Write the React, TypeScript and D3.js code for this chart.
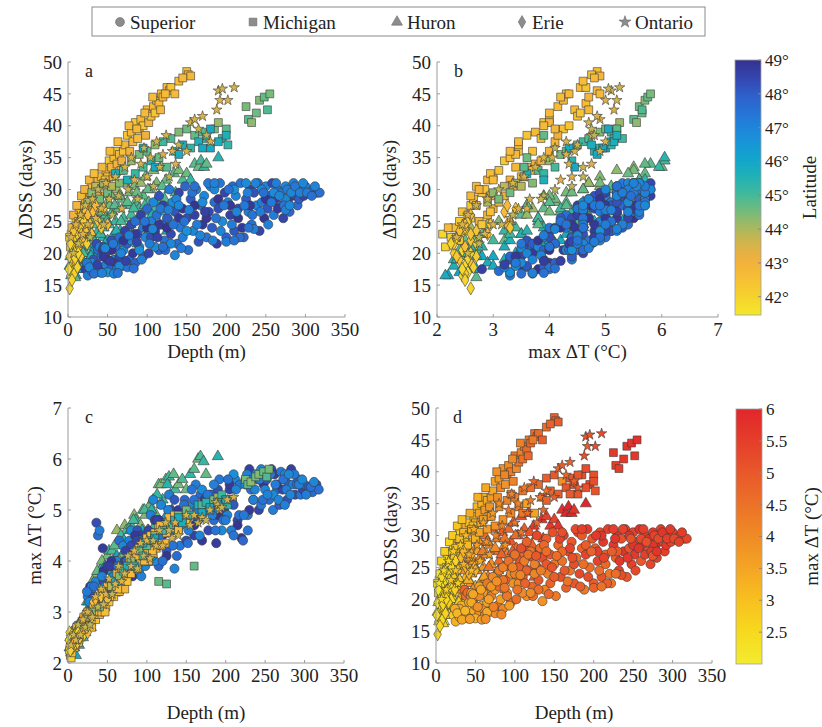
import React from 'react';
import * as d3 from 'd3';

// [depth (m), ΔDSS (days), max ΔT (°C), latitude (°)]
type P = [number, number, number, number];

const superior: P[] = [
  [22,17.5,2.8,48.6],[25,16.5,3.3,47.2],[28,18,3.5,48.8],[30,17.2,3.1,47.6],[32,19,3.3,48.2],[35,17.8,3.6,47.0],
  [36,21.5,4.75,48.3],[38,20.5,4.5,47.6],[40,17,3.3,47.3],[40,21,4.6,47.2],[42,19.5,3.3,47.8],[44,20.5,4.25,48.7],
  [45,17.5,3.8,48.9],[45,21,3.6,48.3],[48,18.2,3.4,47.1],[50,19,3.9,48.6],[52,20.5,3.5,47.4],[55,17.8,3.9,47.9],
  [55,22,3.6,48.2],[58,19,3.4,46.9],[60,18.5,4.0,48.7],[60,21,3.7,47.5],
  [62,17.5,4.0,47.0],[65,19.5,3.5,48.5],[65,22.5,4.4,47.6],[68,18,3.6,48.1],[70,20.5,4.3,46.9],[72,23.5,4.0,48.6],
  [75,17.8,4.0,47.4],[75,21.5,3.7,48.0],[78,19,4.4,47.2],[80,24.5,4.3,48.4],[80,22,4.6,46.8],[82,20,3.7,48.8],
  [85,25,4.2,47.5],[85,18.5,4.1,47.9],[88,23,4.6,48.2],[90,21,3.8,47.0],[92,26,4.5,48.6],[95,24,4.0,47.3],
  [95,19.5,4.4,48.0],[98,22.5,3.9,46.9],
  [100,27,4.5,47.7],[102,20,4.6,48.5],[105,25,4.9,47.1],[105,22.5,4.0,48.3],[108,28,5.2,46.9],[110,23.5,4.8,48.7],
  [112,26,4.3,47.5],[115,20.5,3.9,47.9],[115,29,4.8,48.2],[118,24.5,5.1,47.0],[120,27.5,4.5,48.6],[122,22,4.7,47.4],
  [125,25.5,4.2,48.0],[128,30,5.3,47.2],[135,19.7,3.85,47.0],[130,23,5.0,48.4],[132,28,4.6,46.8],[135,26.5,5.2,48.1],
  [138,21.5,4.1,47.6],[140,29.5,4.9,48.5],[142,24,4.3,47.3],[145,27,5.0,48.9],[145,22.5,4.8,47.1],[148,30.5,5.2,47.8],
  [150,25.5,4.4,48.3],
  [152,20.5,4.35,47.5],[155,28.5,4.7,48.0],[158,23.5,5.1,46.9],[160,26,4.5,48.6],[162,30,5.5,47.2],[165,21.8,4.8,48.2],
  [168,27.5,5.3,47.7],[170,24.5,4.4,48.8],[172,29,5.0,46.9],[175,22.5,5.0,47.4],[178,26.5,4.6,48.4],[180,30.5,5.3,47.0],
  [182,24,5.3,48.0],[185,28,4.8,47.6],[188,21.5,4.35,48.7],[190,27,5.4,48.3],[192,31,5.6,47.3],[195,25,4.6,46.8],
  [198,29.5,5.0,48.5],[200,22.5,4.9,47.9],
  [202,28,4.9,47.1],[205,26,5.4,48.6],[208,30.5,5.2,47.6],[210,23.5,5.1,48.1],[212,29,5.6,46.9],[215,27,4.8,48.4],
  [218,31,5.5,47.4],[220,24,4.45,48.8],[222,22.5,4.4,47.8],[225,28.5,5.6,48.0],[228,26.5,4.9,47.2],[230,30,5.8,48.6],
  [232,24.5,5.4,47.5],[235,29.5,5.2,48.2],[238,27.5,5.7,46.9],[240,31,5.6,47.7],[242,23.5,5.0,48.5],[245,28,5.1,47.3],
  [248,25.5,5.5,48.9],[250,30.5,5.4,47.0],
  [252,27,5.6,48.1],[255,29,5.2,47.6],[258,31,5.8,48.4],[260,26,5.0,47.2],[262,28.5,5.7,48.7],[265,30,5.4,47.5],
  [268,27.5,5.1,48.0],[270,29.5,5.75,47.3],[272,25.5,5.4,48.5],[275,30.5,5.6,46.9],[278,28,5.2,48.2],[280,26.5,5.5,47.8],
  [283,29,5.8,48.6],[285,31,5.5,47.1],[288,29,5.3,48.3],[290,27.5,5.5,47.6],[292,28.5,5.6,48.0],[295,30,5.3,47.4],
  [298,29,5.4,48.5],[300,30.5,5.5,47.2],[305,29.5,5.45,48.1],[310,30,5.35,47.7],[315,29.5,5.5,48.3],[318,29.5,5.4,47.5],
  [45,19.5,3.4,48.8],[55,20.5,4.0,48.9],[70,22,3.8,48.9],[85,23,4.5,48.8],[100,24,4.2,48.9],[115,24.5,4.8,48.8],
  [125,24,4.1,48.9],[140,25.5,5.0,48.8],[160,27.5,4.7,48.9],[175,25.5,5.2,48.8],[190,28.5,4.9,48.9],[205,27.5,5.5,48.8],
  [215,25.5,4.7,48.9],[230,27.5,5.0,48.8],[250,28.5,5.7,48.9],[265,27,5.5,48.8],
  [30,18.5,3.5,46.8],[50,17,3.3,46.7],[58,16.8,3.7,47.0],[65,18,3.4,46.8],[90,20.5,4.4,46.7],[110,21,4.0,46.8],
  [130,21.5,4.6,46.9],[150,23.5,4.9,46.7],[170,28,5.4,46.8],[185,30,5.0,46.9],[210,30,5.7,46.7],[225,31,5.5,46.8],
  [245,30,5.8,46.9],[260,29.5,5.3,46.8],[275,28.5,5.7,47.0],
  [24,18.5,3.4,47.3],[27,17.8,3.2,46.9],[33,16.8,3.5,47.5],[37,18.2,3.2,48.6],[43,16.9,3.7,47.1],[47,20.8,3.5,46.9],
  [53,18.8,3.9,48.7],[57,21.5,3.5,47.3],[63,16.9,3.9,47.4],[67,20,3.6,47.0],[73,18.8,4.2,48.6],[77,22.8,3.9,47.2],
  [83,17.6,4.1,47.5],[87,21.8,4.4,48.5],[93,19,3.7,47.1],[97,25,4.2,47.4],[103,21.5,4.5,47.2],[107,23.8,4.1,47.0],
  [113,22.5,4.8,48.6],[117,27,4.5,47.3],[123,20.5,4.6,47.6],[127,26.8,5.0,47.1],[133,24.5,4.3,47.4],[137,28.5,4.7,47.0],
  [143,20.8,4.7,47.2],[147,25,5.1,47.5],[153,26.8,4.6,47.1],[157,29.5,5.4,47.4],[163,24.5,5.0,47.2],[167,22.8,4.5,47.0],
  [173,26.5,5.2,48.6],[177,31,5.3,47.3],[183,22,4.9,47.1],[187,25.5,4.6,47.4],[193,23.5,5.2,47.0],[197,27.5,4.8,47.3],
  [203,30,5.6,47.5],[207,24.5,4.6,47.2],[213,26.5,5.4,47.0],[217,22.5,4.9,47.5],[223,27.5,4.9,47.3],[227,29.5,5.7,47.1],
  [233,26,5.6,47.4],[237,31,5.4,47.0],[243,26.5,5.6,47.2],[247,29.5,5.2,47.5],[253,24.5,5.3,47.1],[257,28,5.7,47.3],
  [263,31,5.5,47.2],[267,29,5.2,47.0],[273,27.5,5.6,47.4],[277,30,5.4,47.2],[282,29.5,5.3,47.0],[287,30.5,5.7,47.3],
  [293,29.5,5.5,47.1],[297,31,5.6,46.9],[302,29.5,5.3,47.2],[308,29,5.45,47.5],[312,30.5,5.55,47.0],[235,23.8,5.2,47.1],
  [228,24,4.6,47.4],[275,26.8,5.1,47.1],[280,27.5,5.7,46.9],[120,21,4.0,47.5],[200,21.8,4.8,47.2],[210,22,4.5,47.4],
  [185,31,5.5,47.1],[160,30.5,5.2,47.5],[140,27.5,4.6,46.9],
];

const michigan: P[] = [
  [3,21,2.15,42.0],[4,23,2.1,41.9],[6,22,2.4,42.3],[8,24,2.3,42.6],[10,25.5,2.6,42.2],[12,23.5,2.5,42.8],
  [14,26.5,2.45,42.5],[16,25,2.75,43.0],[18,27.5,2.6,42.4],[20,26,2.9,42.9],[22,28.5,2.65,42.6],[25,27,3.0,43.1],
  [28,29.5,2.8,42.5],[30,30.5,2.7,42.7],[32,28,3.1,43.2],[35,30,2.85,42.4],[38,31.5,3.3,42.9],[40,29,2.95,43.0],
  [42,32,3.0,42.6],[45,30.5,3.35,43.1],[48,33,3.1,42.5],[50,32,3.5,42.8],[52,34.5,3.2,42.3],[55,33.5,3.6,42.9],
  [58,35,3.3,42.6],[60,36,3.45,42.4],[62,34,3.75,43.0],[65,35.5,3.4,42.7],[68,34.5,3.85,43.2],[70,36,3.7,42.5],
  [72,37,3.45,42.8],[75,38.5,3.6,42.4],[78,36,4.0,43.0],[80,39,3.75,42.7],[82,37.5,4.1,42.9],[85,40.5,3.9,42.3],
  [88,38,3.85,42.6],[90,39.5,4.25,42.5],[92,41,4.0,42.8],[95,40,4.35,42.4],[98,38.5,4.15,43.1],[100,42.5,4.45,42.6],
  [102,40.5,4.0,42.9],[105,41.5,4.5,42.5],[108,43,4.15,42.7],[110,42,4.55,42.4],[112,44,4.25,42.8],[115,43.5,4.65,42.6],
  [118,45,4.3,42.5],[120,44.5,4.7,42.9],[125,46,4.55,42.6],[128,45.5,4.85,42.8],[130,46,4.65,42.4],[135,45,4.9,42.7],
  [150,48.5,4.85,42.6],[152,48,4.75,42.5],[155,47.8,4.9,42.8],
  [2,22.5,2.25,42.1],[5,24,2.2,42.7],[7,26,2.55,43.0],[9,22.5,2.35,42.4],[11,27.5,2.7,42.9],[13,25,2.4,42.2],
  [17,29,2.6,42.8],[19,24.5,2.8,42.3],[21,30,2.75,43.0],[23,26.5,2.95,42.5],[27,31.5,2.9,42.9],[33,32.5,2.95,42.6],
  [37,29,3.2,43.1],[43,33.5,3.4,42.8],[47,31.5,3.0,42.6],[53,36,3.3,42.7],[57,32,3.55,43.1],[63,37.5,3.45,42.6],
  [67,33,3.7,42.9],[77,40,3.9,42.7],[87,39.5,4.1,42.8],[97,42,4.0,42.7],[107,44.5,4.2,42.6],[117,42.5,4.7,42.8],
  [123,45,4.35,42.7],[140,47,4.6,42.6],[145,47.5,4.8,42.7],
  [25,28,2.9,44.0],[30,29.5,3.0,44.3],[35,30.5,3.2,43.8],[40,28.5,3.1,44.5],[45,31,3.4,44.1],[50,29.5,3.3,44.6],
  [55,30.5,3.5,43.9],[60,32.5,3.6,45.6],[65,31,3.7,44.4],[70,33,3.8,44.8],[80,34.5,4.0,44.2],[85,32.5,3.9,45.2],
  [90,35.5,4.2,44.5],[95,33.5,4.1,45.0],[100,36,4.3,44.7],[105,34.5,4.4,45.4],[110,37,4.5,44.3],[115,35,3.6,44.6],
  [120,37.5,4.6,45.1],[125,33.5,3.55,44.8],[130,38,4.7,44.9],[135,36,4.8,45.5],[140,39,4.9,44.4],[145,37,4.75,45.7],
  [150,39.5,5.0,44.6],[155,36.5,4.9,45.3],[160,38.5,3.9,44.7],[165,37.5,5.1,45.6],[170,39,5.1,44.9],[175,38,5.15,45.4],
  [180,36.5,5.0,45.8],[185,39.5,5.2,44.5],[190,40.5,5.25,44.2],[195,38,5.3,45.1],[200,39.5,5.2,44.8],[202,37,5.1,45.3],
  [75,31.5,3.9,45.6],[95,36.5,4.35,45.8],[110,33.5,4.45,45.9],[140,35.5,4.85,45.8],[170,36.5,4.95,45.9],[190,37.5,5.15,45.7],
  [200,38.5,5.2,45.6],[180,39.5,5.05,45.9],
  [225,43,5.6,44.5],[228,41,5.5,44.8],[232,40.5,5.55,44.3],[238,42,5.65,44.6],[242,44,5.7,44.4],[248,44.5,5.75,44.7],
  [252,42.5,5.65,44.9],[255,45,5.8,44.5],
];

const huron: P[] = [
  [2,18,2.3,45.6],[4,16.5,2.2,45.9],[5,20,2.6,44.8],[6,17,2.4,46.1],[8,19,2.3,45.2],[8,21.5,2.5,44.3],
  [10,16.5,2.15,45.8],[12,20.5,2.7,45.0],[12,18.5,2.6,45.5],[15,22,2.5,44.6],[15,19.5,2.8,45.9],[18,21,2.6,45.3],
  [18,23,2.85,44.2],[20,18.5,2.9,45.7],[22,20,2.6,45.1],[24,22,3.2,44.7],[25,24.5,2.9,44.0],[26,19,3.2,45.8],
  [28,21,2.8,45.4],[30,23,3.5,44.9],[30,20,3.4,46.0],[32,25,3.1,44.4],[34,21.5,3.6,45.6],[35,27,3.7,44.1],
  [36,19.5,3.0,45.9],[38,23.5,3.2,45.2],[40,25.5,3.8,44.6],[40,21,3.2,45.7],[42,27.5,3.6,44.3],[44,22.5,3.9,45.4],
  [45,24,3.4,45.0],[46,20,3.6,46.2],[48,26,3.5,44.8],[50,28,4.1,44.5],[50,22,3.3,45.6],[52,24.5,4.2,45.1],
  [54,20.5,3.8,45.9],[55,29,3.9,44.4],[56,26.5,4.2,44.9],[58,23,3.5,45.5],[60,25,3.8,45.2],[62,30,4.6,44.2],
  [62,21.5,4.1,46.0],[64,27,3.9,44.7],[66,23.5,4.4,45.4],[68,28.5,4.1,44.6],[70,25.5,3.8,45.1],[72,31,4.7,44.3],
  [72,22,4.2,45.8],[74,27.5,4.6,44.9],[76,24,3.9,45.5],[78,29.5,4.3,44.5],[80,26,4.7,45.0],[82,23,4.0,45.7],
  [84,30.5,4.9,44.4],[85,28,4.3,44.8],[86,25,4.8,45.3],[88,21.5,4.1,45.9],[90,27,4.2,45.1],[92,31,4.7,44.2],
  [94,24,4.6,45.6],[95,29,5.0,44.7],[96,26.5,4.4,45.2],[98,32,4.9,44.4],[100,23,4.3,45.8],[102,28,4.6,44.9],
  [104,30,5.1,44.6],[105,25.5,4.5,45.4],[108,33,5.2,44.3],[110,27,4.7,45.0],[110,22.5,4.4,45.7],[112,31,4.9,44.5],
  [115,29,5.5,44.8],[116,24.5,4.6,45.5],[118,33.5,5.5,44.4],[120,26.5,5.2,45.3],[122,28.5,4.8,44.9],[124,31.5,5.6,44.6],
  [125,23.5,4.9,45.9],[128,30,5.65,45.1],[130,25,5.3,45.6],[132,27.5,5.0,45.2],[134,32.5,5.7,44.7],[136,29.5,5.4,45.0],
  [140,33,5.5,44.5],[145,31.5,5.6,44.9],[150,32.5,5.4,44.6],[155,31.5,5.7,45.3],[160,34,5.8,44.8],[165,33.5,6.0,44.6],
  [168,34.5,6.05,45.0],[172,33.5,5.95,45.2],[175,34,5.7,44.7],[190,35,6.05,45.4],[9,16.2,2.7,44.8],
  [3,19.5,2.5,45.1],[5,22,2.35,44.5],[7,18,2.6,45.7],[9,20.5,2.4,44.9],[11,17.5,2.5,46.0],[13,22.5,2.7,44.4],
  [14,19,2.35,45.4],[16,24,2.6,44.1],[17,17.5,2.7,45.9],[19,20,2.5,45.0],[21,22.5,2.7,44.6],[23,18,3.0,45.8],
  [27,23,2.8,44.6],[29,19.5,2.7,45.5],[31,26,3.6,44.2],[33,22,3.0,45.0],[37,24.5,3.8,44.7],[39,20.5,3.5,45.6],
  [41,23,3.3,45.1],[43,26.5,4.0,44.5],[47,21.5,3.9,45.6],[49,25,3.3,44.9],[53,27.5,3.6,44.6],[57,22,4.0,45.7],
  [59,27.5,4.3,44.8],[61,23.5,3.6,45.4],[65,29,4.0,44.5],[67,25,4.5,45.0],[71,23,4.4,45.6],[75,28,4.0,44.8],
  [79,24.5,4.6,45.3],[83,27,4.8,45.0],[87,29.5,4.4,44.6],[91,25.5,4.3,45.4],[97,27.5,5.0,45.0],[101,30,4.6,44.7],
  [106,26,5.0,45.5],[113,28,5.3,45.2],[119,30.5,5.1,44.8],[126,27,5.5,45.4],
];

const erie: P[] = [
  [2,14.5,2.6,41.9],[3,16.5,2.45,42.0],[4,18,2.5,41.8],[4,20,2.3,42.2],[5,17,2.55,41.7],[6,19,2.4,42.4],
  [6,21.5,2.3,42.0],[8,16.8,2.5,42.1],[8,22.5,2.35,41.9],[10,18.5,2.6,42.5],[10,20.5,2.45,41.8],[12,23,2.4,42.3],
  [12,17.8,2.65,42.0],[14,21,2.5,42.6],[15,24,2.5,41.9],[16,19.5,2.7,42.2],[18,22,2.6,42.5],[20,25,2.55,42.1],
  [22,23.5,2.7,42.4],[25,26,2.6,42.7],[28,24.5,2.95,42.3],[32,26.5,3.2,42.6],[38,25,3.3,42.2],[45,27,3.4,42.5],
  [50,24.5,3.25,42.8],
  [1,17.5,2.45,41.8],[2,19.5,2.35,42.3],[3,21.5,2.25,42.0],[5,15.8,2.5,41.9],[7,23.5,2.4,42.5],[9,19.2,2.55,42.0],
  [11,24.5,2.5,42.6],[13,20,2.6,41.9],[17,23,2.6,42.4],[24,21.5,2.7,42.1],[30,23,2.9,42.5],[35,27.5,3.25,42.7],
  [42,24,3.3,42.4],
];

const ontario: P[] = [
  [4,22.5,2.35,43.5],[7,20,2.55,43.7],[10,24.5,2.45,43.4],[13,21.5,2.75,43.8],[16,26,2.55,43.6],[19,23,2.85,43.3],
  [22,27.5,2.7,43.7],[25,24.5,3.0,43.5],[28,22.5,2.75,43.9],[31,28.5,2.9,43.6],[35,25.5,3.3,43.4],[38,30,3.1,43.8],
  [42,27,3.45,43.5],[45,24.5,3.15,43.7],[48,31,3.35,43.4],[52,28.5,3.65,43.6],[56,26,3.35,43.8],[60,32,3.55,43.5],
  [64,29,3.9,43.7],[68,27,3.6,43.4],[72,33.5,3.75,43.6],[76,30,4.1,43.8],[80,35,3.9,43.5],[84,31.5,4.2,43.3],
  [88,28.5,3.85,43.7],[92,34,4.35,43.5],[96,36.5,4.1,43.8],[100,32,4.4,43.4],[104,35,4.05,43.6],[108,30.5,4.4,43.8],
  [112,37.5,4.3,43.5],[116,33.5,4.6,43.7],[120,35.5,4.3,43.4],[124,38.5,4.75,43.6],[128,32,4.6,43.8],[132,36,4.45,43.5],
  [136,34,4.75,43.3],[140,37,4.5,43.7],[150,36,4.9,43.5],[155,40.5,4.7,43.6],[160,41,4.9,43.5],[165,39.5,4.75,43.7],
  [170,41.5,4.85,43.4],[175,38.5,4.8,43.8],[180,37.5,5.0,43.5],[188,42.5,5.15,43.5],[190,45.5,5.1,43.6],[192,44,5.0,43.4],
  [195,45.8,5.05,43.7],[202,44,5.2,43.5],[210,46,5.25,43.6],
];

const lakeNames = ['Superior', 'Michigan', 'Huron', 'Erie', 'Ontario'];
const depthTicks = [0, 50, 100, 150, 200, 250, 300, 350];
const dssTicks = [10, 15, 20, 25, 30, 35, 40, 45, 50];
const dtTicksB = [2, 3, 4, 5, 6, 7];
const dtTicksC = [2, 3, 4, 5, 6, 7];
const latTicks = [42, 43, 44, 45, 46, 47, 48, 49];
const dtBarTicks = [2.5, 3, 3.5, 4, 4.5, 5, 5.5, 6];

const latStops: [number, string][] = [
  [41.46, '#f3e82a'], [42, '#f6d22c'], [42.6, '#f7bd36'], [43.1, '#f0b03e'], [43.6, '#d2b44c'],
  [44.1, '#a2b962'], [44.6, '#6cbb80'], [45.1, '#3cb89e'], [45.6, '#1eb0b8'], [46.1, '#12a4cc'],
  [46.7, '#1a90da'], [47.3, '#2479d8'], [47.9, '#2e62cc'], [48.4, '#3449b4'], [49, '#35318e'],
];
const dtStops: [number, string][] = [
  [2.0, '#f3ec2e'], [2.5, '#f7d91e'], [3.0, '#f8c020'], [3.5, '#f4a524'], [4.0, '#ef8b26'],
  [4.5, '#ec7228'], [5.0, '#e9582a'], [5.5, '#e53e2a'], [6.0, '#e1262b'],
];

const latColor = d3.scaleLinear<string>().domain(latStops.map(s => s[0])).range(latStops.map(s => s[1])).clamp(true);
const dtColor = d3.scaleLinear<string>().domain(dtStops.map(s => s[0])).range(dtStops.map(s => s[1])).clamp(true);

const FONT = '"Liberation Serif", "Times New Roman", Times, serif';
const TXT = '#222';
const AX = '#9a9a9a';

const shapes = [
  { name: 'Superior', type: d3.symbolCircle, size: 66 },
  { name: 'Michigan', type: d3.symbolSquare, size: 62 },
  { name: 'Huron', type: d3.symbolTriangle, size: 54 },
  { name: 'Erie', type: d3.symbolDiamond, size: 50 },
  { name: 'Ontario', type: d3.symbolStar, size: 34 },
];
const lakeData: P[][] = [superior, michigan, huron, erie, ontario];
const drawOrder = [2, 0, 1, 3, 4];

type PanelProps = {
  left: number; right: number; top: number; bottom: number;
  xDomain: [number, number]; yDomain: [number, number];
  xTicks: number[]; yTicks: number[];
  xi: number; yi: number; color: (p: P) => string;
  letter: string; xLabel: string; xLabelY: number; yLabel: string; yLabelX: number;
};

function Panel(pr: PanelProps) {
  const x = d3.scaleLinear().domain(pr.xDomain).range([pr.left, pr.right]);
  const y = d3.scaleLinear().domain(pr.yDomain).range([pr.bottom, pr.top]);
  const marks: React.ReactNode[] = [];
  drawOrder.forEach(li => {
    const sh = shapes[li];
    const path = d3.symbol().type(sh.type).size(sh.size)() || '';
    lakeData[li].forEach((p, k) => {
      marks.push(
        <path key={`${li}-${k}`} d={path} transform={`translate(${x(p[pr.xi])},${y(p[pr.yi])})`}
          fill={pr.color(p)} stroke="#3b3b3b" strokeWidth={0.6} />
      );
    });
  });
  const cy = (pr.top + pr.bottom) / 2;
  const cx = (pr.left + pr.right) / 2;
  return (
    <g>
      {marks}
      <line x1={pr.left} x2={pr.right} y1={pr.bottom} y2={pr.bottom} stroke={AX} strokeWidth={1} />
      <line x1={pr.left} x2={pr.left} y1={pr.bottom} y2={pr.top} stroke={AX} strokeWidth={1} />
      {pr.xTicks.map(t => (
        <g key={'x' + t}>
          <line x1={x(t)} x2={x(t)} y1={pr.bottom} y2={pr.bottom - 3} stroke={AX} />
          <text x={x(t)} y={pr.bottom + 19} textAnchor="middle" fontSize={19} fontFamily={FONT} fill={TXT}>{t}</text>
        </g>
      ))}
      {pr.yTicks.map(t => (
        <g key={'y' + t}>
          <line x1={pr.left} x2={pr.left + 3} y1={y(t)} y2={y(t)} stroke={AX} />
          <text x={pr.left - 6} y={y(t)} dy="0.35em" textAnchor="end" fontSize={19} fontFamily={FONT} fill={TXT}>{t}</text>
        </g>
      ))}
      <text x={pr.left + 17} y={pr.top + 15} fontSize={18} fontFamily={FONT} fill={TXT}>{pr.letter}</text>
      <text x={cx} y={pr.xLabelY} textAnchor="middle" fontSize={19} fontFamily={FONT} fill={TXT}>{pr.xLabel}</text>
      <text transform={`translate(${pr.yLabelX},${cy}) rotate(-90)`} dy="0.35em" textAnchor="middle" fontSize={19} fontFamily={FONT} fill={TXT}>{pr.yLabel}</text>
    </g>
  );
}

type BarProps = { id: string; left: number; top: number; bottom: number; width: number; domain: [number, number];
  stops: [number, string][]; ticks: number[]; fmt: (v: number) => string; label: string; labelX: number };

function ColorBar(b: BarProps) {
  const s = d3.scaleLinear().domain(b.domain).range([b.bottom, b.top]);
  const [d0, d1] = b.domain;
  return (
    <g>
      <defs>
        <linearGradient id={b.id} x1="0" y1="1" x2="0" y2="0">
          {b.stops.map((st, i) => (
            <stop key={i} offset={`${((st[0] - d0) / (d1 - d0)) * 100}%`} stopColor={st[1]} />
          ))}
        </linearGradient>
      </defs>
      <rect x={b.left} y={b.top} width={b.width} height={b.bottom - b.top} fill={`url(#${b.id})`} stroke="#a0a0a0" strokeWidth={0.8} />
      {b.ticks.map(t => (
        <g key={t}>
          <line x1={b.left + b.width - 3} x2={b.left + b.width} y1={s(t)} y2={s(t)} stroke="#888" />
          <text x={b.left + b.width + 4} y={s(t)} dy="0.35em" fontSize={17} fontFamily={FONT} fill={TXT}>{b.fmt(t)}</text>
        </g>
      ))}
      <text transform={`translate(${b.labelX},${(b.top + b.bottom) / 2}) rotate(-90)`} dy="0.35em" textAnchor="middle" fontSize={19} fontFamily={FONT} fill={TXT}>{b.label}</text>
    </g>
  );
}

function Legend() {
  const sx = [120, 253, 397, 522, 625];
  return (
    <g>
      <rect x={92} y={7} width={613} height={29} fill="#fff" stroke="#8a8a8a" strokeWidth={1} />
      {shapes.map((sh, i) => (
        <g key={sh.name}>
          <path d={d3.symbol().type(sh.type).size(i === 4 ? 45 : sh.size * 0.95)() || ''} transform={`translate(${sx[i]},${22})`} fill="#8c8c8c" stroke="#6a6a6a" strokeWidth={0.6} />
          <text x={sx[i] + 10} y={28.5} fontSize={19} fontFamily={FONT} fill={TXT}>{lakeNames[i]}</text>
        </g>
      ))}
    </g>
  );
}

export default function App() {
  const lat = (p: P) => latColor(p[3]);
  const dtc = (p: P) => dtColor(p[2]);
  return (
    <svg width={822} height={727} style={{ position: 'absolute', left: 0, top: 0, background: '#fff' }}>
      <rect width={822} height={727} fill="#fff" />
      <Legend />
      <Panel left={68} right={345} top={62} bottom={317} xDomain={[0, 350]} yDomain={[10, 50]} xTicks={depthTicks} yTicks={dssTicks}
        xi={0} yi={1} color={lat} letter="a" xLabel="Depth (m)" xLabelY={358} yLabel="ΔDSS (days)" yLabelX={25} />
      <Panel left={437} right={718} top={62} bottom={317} xDomain={[2, 7]} yDomain={[10, 50]} xTicks={dtTicksB} yTicks={dssTicks}
        xi={2} yi={1} color={lat} letter="b" xLabel="max  ΔT (°C)" xLabelY={358} yLabel="ΔDSS (days)" yLabelX={389} />
      <Panel left={68} right={344} top={408} bottom={663} xDomain={[0, 350]} yDomain={[2, 7]} xTicks={depthTicks} yTicks={dtTicksC}
        xi={0} yi={2} color={lat} letter="c" xLabel="Depth (m)" xLabelY={719} yLabel="max  ΔT (°C)" yLabelX={34} />
      <Panel left={436} right={712} top={408} bottom={663} xDomain={[0, 350]} yDomain={[10, 50]} xTicks={depthTicks} yTicks={dssTicks}
        xi={0} yi={1} color={dtc} letter="d" xLabel="Depth (m)" xLabelY={719} yLabel="ΔDSS (days)" yLabelX={390} />
      <ColorBar id="latbar" left={735} top={60} bottom={315} width={26} domain={[41.46, 49]} stops={latStops} ticks={latTicks}
        fmt={v => `${v}°`} label="Latitude" labelX={809} />
      <ColorBar id="dtbar" left={736} top={409} bottom={664} width={26} domain={[2.0, 6.0]} stops={dtStops} ticks={dtBarTicks}
        fmt={v => `${v}`} label="max  ΔT (°C)" labelX={811} />
    </svg>
  );
}
